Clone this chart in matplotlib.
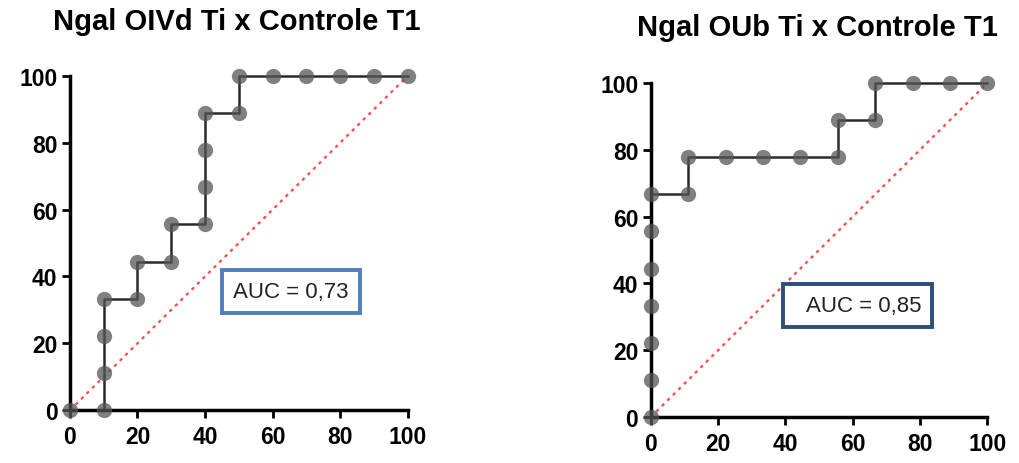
import numpy as np
import matplotlib
matplotlib.use('Agg')
import matplotlib.pyplot as plt

# ROC points (100 - specificity %, sensitivity %)
titles = ['Ngal OIVd Ti x Controle T1', 'Ngal OUb Ti x Controle T1']

x_left = [0, 10, 10, 10, 10, 20, 20, 30, 30, 40, 40, 40, 40, 50, 50, 60, 70, 80, 90, 100]
y_left = [0, 0, 11.11, 22.22, 33.33, 33.33, 44.44, 44.44, 55.56, 55.56, 66.67, 77.78, 88.89,
          88.89, 100, 100, 100, 100, 100, 100]

x_right = [0, 0, 0, 0, 0, 0, 0, 11.11, 11.11, 22.22, 33.33, 44.44, 55.56, 55.56, 66.67, 66.67,
           77.78, 88.89, 100]
y_right = [0, 11.11, 22.22, 33.33, 44.44, 55.56, 66.67, 66.67, 77.78, 77.78, 77.78, 77.78,
           77.78, 88.89, 88.89, 100, 100, 100, 100]

auc_labels = ['AUC = 0,73', '  AUC = 0,85']
ticks = [0, 20, 40, 60, 80, 100]

plt.rcParams['font.family'] = ['Liberation Sans', 'DejaVu Sans']

fig = plt.figure(figsize=(10.2, 4.64), dpi=100)
ax1 = fig.add_axes([0.0686, 0.114, 0.331, 0.72])
ax2 = fig.add_axes([0.638, 0.099, 0.330, 0.72])

panels = [(ax1, x_left, y_left, (65.4, 35.5), '#4f7fbf', (0.232, 0.952)),
          (ax2, x_right, y_right, (61.5, 33.4), '#2e4d7b', (0.801, 0.94))]

for i, (ax, xs, ys, pos, ec, tpos) in enumerate(panels):
    ax.plot([0, 100], [0, 100], linestyle=(0, (1.5, 2)), color='#ff4b4b', lw=1.6, zorder=1)
    ax.plot(xs, ys, color='#2a2a2a', lw=1.8, zorder=2, clip_on=False)
    ax.plot(xs, ys, 'o', ms=11, color='#555555', alpha=0.75, mec='none', zorder=3, clip_on=False)
    ax.set_xlim(0, 100)
    ax.set_ylim(0, 100)
    ax.set_xticks(ticks)
    ax.set_yticks(ticks)
    for lab in ax.get_xticklabels() + ax.get_yticklabels():
        lab.set_fontweight('bold')
        lab.set_fontsize(16.5)
    ax.tick_params(width=2, length=6, direction='out', pad=3)
    ax.tick_params(axis='x', pad=5)
    for s in ['top', 'right']:
        ax.spines[s].set_visible(False)
    for s in ['left', 'bottom']:
        ax.spines[s].set_linewidth(2.5)
    ax.text(pos[0], pos[1], auc_labels[i], fontsize=16, ha='center', va='center', color='#222222',
            bbox=dict(boxstyle='square,pad=0.5', fc='white', ec=ec, lw=2.8), zorder=4)
    fig.text(tpos[0], tpos[1], titles[i], fontsize=21, fontweight='bold', ha='center', va='center')

fig.savefig('out.png', dpi=100)
